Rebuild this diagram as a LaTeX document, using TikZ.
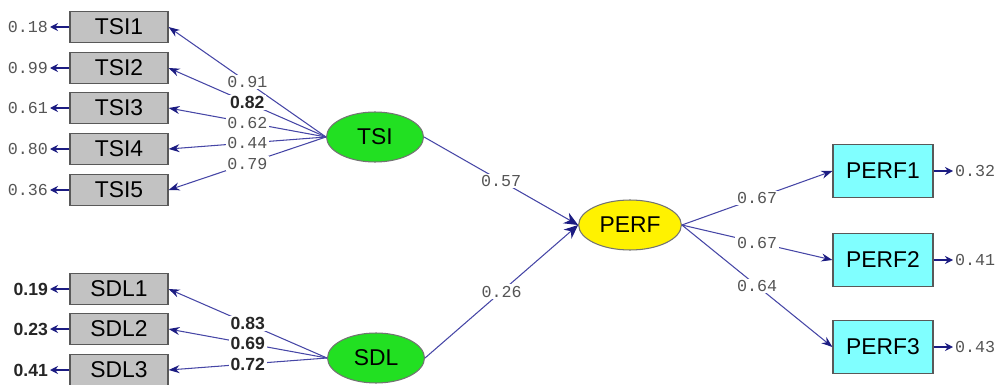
\documentclass[tikz,border=0pt]{standalone}
\usepackage{fontspec}
\usepackage{xcolor}
\setmainfont{Liberation Sans}
\newfontfamily\numfont{Liberation Mono}
\usetikzlibrary{arrows,arrows.meta,shapes,positioning}

\definecolor{pathblue}{HTML}{4646A6}
\definecolor{headblue}{HTML}{1C1C82}
\definecolor{boxgray}{HTML}{C2C2C2}
\definecolor{latgreen}{HTML}{22E022}
\definecolor{obscyan}{HTML}{80FFFF}
\definecolor{numgray}{HTML}{555555}

\begin{document}
\begin{tikzpicture}[x=0.02cm,y=-0.02cm,
    indic/.style={rectangle,draw=black!65,fill=boxgray,line width=0.7pt,minimum width=1.96cm,minimum height=0.62cm,font=\fontsize{13}{14}\selectfont},
    perfbox/.style={rectangle,draw=black!65,fill=obscyan,line width=0.7pt,minimum width=2cm,minimum height=1.06cm,font=\fontsize{13}{14}\selectfont},
    latent/.style={ellipse,draw=black!55,line width=0.6pt,minimum width=1.94cm,minimum height=1cm,font=\fontsize{13}{14}\selectfont},
    load/.style={-{Stealth[length=2.2mm,width=1.6mm,color=headblue]},draw=pathblue,line width=0.6pt},
    struct/.style={-{Stealth[length=2.8mm,width=2.4mm,color=headblue]},draw=pathblue,line width=0.6pt},
    err/.style={-{Stealth[length=1.6mm,width=1.6mm]},draw=headblue,line width=1.4pt},
    val/.style={fill=white,inner sep=1pt,font=\numfont\fontsize{9.5}{10}\selectfont,text=numgray},
    bval/.style={fill=white,inner sep=1pt,font=\bfseries\fontsize{10}{10}\selectfont,text=black!85}]
\useasboundingbox (0,0) rectangle (997,385);
\clip (0,0) rectangle (997,385);

% latent variables
\node[latent,fill=latgreen] (tsi) at (375,137) {TSI};
\node[latent,fill=latgreen] (sdl) at (376,358) {SDL};
\node[latent,fill=yellow] (perf) at (630,225) {PERF};

% TSI indicators
\node[indic] (tsi1) at (119,27) {TSI1};
\node[indic] (tsi2) at (119,68) {TSI2};
\node[indic] (tsi3) at (119,108) {TSI3};
\node[indic] (tsi4) at (119,149) {TSI4};
\node[indic] (tsi5) at (119,190) {TSI5};

% SDL indicators
\node[indic] (sdl1) at (119,289) {SDL1};
\node[indic] (sdl2) at (119,329) {SDL2};
\node[indic] (sdl3) at (119,370) {SDL3};

% PERF indicators
\node[perfbox] (perf1) at (883,171) {PERF1};
\node[perfbox] (perf2) at (883,260) {PERF2};
\node[perfbox] (perf3) at (883,347) {PERF3};

% error variances
\node[val,anchor=east] (e1) at (50,27) {0.18};
\node[val,anchor=east] (e2) at (50,68) {0.99};
\node[val,anchor=east] (e3) at (50,108) {0.61};
\node[val,anchor=east] (e4) at (50,149) {0.80};
\node[val,anchor=east] (e5) at (50,190) {0.36};
\node[bval,anchor=east] (e6) at (50,289) {0.19};
\node[bval,anchor=east] (e7) at (50,329) {0.23};
\node[bval,anchor=east] (e8) at (50,370) {0.41};
\node[val,anchor=west] (e9) at (953,171) {0.32};
\node[val,anchor=west] (e10) at (953,260) {0.41};
\node[val,anchor=west] (e11) at (953,347) {0.43};

\draw[err] (tsi1.west) -- (e1.east);
\draw[err] (tsi2.west) -- (e2.east);
\draw[err] (tsi3.west) -- (e3.east);
\draw[err] (tsi4.west) -- (e4.east);
\draw[err] (tsi5.west) -- (e5.east);
\draw[err] (sdl1.west) -- (e6.east);
\draw[err] (sdl2.west) -- (e7.east);
\draw[err] (sdl3.west) -- (e8.east);
\draw[err] (perf1.east) -- (e9.west);
\draw[err] (perf2.east) -- (e10.west);
\draw[err] (perf3.east) -- (e11.west);

% loadings
\draw[load] (tsi.west) -- node[val] {0.91} (tsi1.east);
\draw[load] (tsi.west) -- node[bval] {0.82} (tsi2.east);
\draw[load] (tsi.west) -- node[val] {0.62} (tsi3.east);
\draw[load] (tsi.west) -- node[val] {0.44} (tsi4.east);
\draw[load] (tsi.west) -- node[val] {0.79} (tsi5.east);
\draw[load] (sdl.west) -- node[bval] {0.83} (sdl1.east);
\draw[load] (sdl.west) -- node[bval] {0.69} (sdl2.east);
\draw[load] (sdl.west) -- node[bval] {0.72} (sdl3.east);
\draw[load] (perf.east) -- node[val] {0.67} (perf1.west);
\draw[load] (perf.east) -- node[val] {0.67} (perf2.west);
\draw[load] (perf.east) -- node[val] {0.64} (perf3.west);

% structural paths
\draw[struct] (tsi.east) -- node[val] {0.57} (perf.west);
\draw[struct] (sdl.east) -- node[val] {0.26} (perf.west);
\end{tikzpicture}
\end{document}
